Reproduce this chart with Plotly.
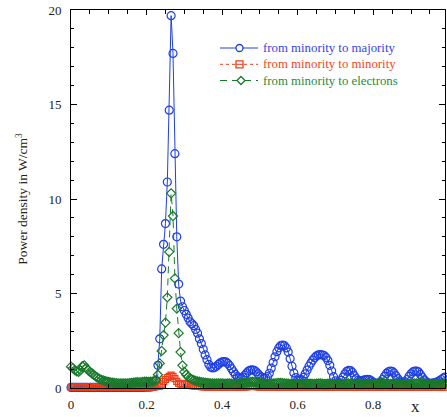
import numpy as np
import plotly.graph_objects as go

# Position along the sample, sampled every 0.005
x = np.round(np.arange(0, 199) * 0.005, 3)

# Power density from minority to majority carriers (W/cm^3)
majority = [
    0.03, 0.03, 0.04, 0.03, 0.03, 0.04, 0.03, 0.03, 0.04, 0.03,
    0.03, 0.03, 0.04, 0.03, 0.03, 0.03, 0.04, 0.03, 0.03, 0.03,
    0.03, 0.04, 0.03, 0.03, 0.03, 0.04, 0.03, 0.03, 0.03, 0.04,
    0.03, 0.03, 0.03, 0.04, 0.03, 0.03, 0.04, 0.03, 0.03, 0.04,
    0.04, 0.05, 0.05, 0.06, 0.08, 0.40, 1.20, 2.60, 6.30, 7.60,
    8.70, 10.9, 14.7, 19.7, 17.7, 12.4, 8.00, 5.50, 4.60, 4.30,
    4.10, 3.90, 3.70, 3.50, 3.40, 3.30, 3.10, 2.90, 2.60, 2.35,
    2.05, 1.75, 1.50, 1.25, 1.10, 1.06, 1.08, 1.15, 1.25, 1.33,
    1.38, 1.40, 1.38, 1.30, 1.18, 1.02, 0.86, 0.72, 0.60, 0.54,
    0.53, 0.58, 0.68, 0.80, 0.90, 0.95, 0.96, 0.94, 0.86, 0.75,
    0.64, 0.56, 0.52, 0.53, 0.60, 0.78, 1.05, 1.35, 1.65, 1.92,
    2.12, 2.24, 2.27, 2.24, 2.12, 1.90, 1.55, 1.15, 0.80, 0.55,
    0.42, 0.40, 0.44, 0.56, 0.75, 0.95, 1.15, 1.32, 1.48, 1.60,
    1.70, 1.75, 1.77, 1.75, 1.72, 1.62, 1.45, 1.20, 0.90, 0.60,
    0.38, 0.27, 0.28, 0.40, 0.58, 0.75, 0.88, 0.93, 0.92, 0.82,
    0.65, 0.50, 0.40, 0.36, 0.38, 0.42, 0.45, 0.46, 0.44, 0.38,
    0.30, 0.25, 0.25, 0.27, 0.32, 0.45, 0.62, 0.77, 0.86, 0.90,
    0.88, 0.80, 0.65, 0.50, 0.38, 0.30, 0.28, 0.33, 0.45, 0.62,
    0.75, 0.85, 0.90, 0.90, 0.85, 0.72, 0.57, 0.43, 0.33, 0.27,
    0.25, 0.25, 0.27, 0.30, 0.33, 0.38, 0.45, 0.52, 0.58,
]

# Power density from minority to minority carriers (W/cm^3)
minority = [
    0.04, 0.05, 0.04, 0.05, 0.05, 0.04, 0.05, 0.04, 0.05, 0.05,
    0.04, 0.05, 0.04, 0.05, 0.04, 0.05, 0.05, 0.04, 0.05, 0.04,
    0.05, 0.04, 0.05, 0.05, 0.04, 0.05, 0.04, 0.05, 0.04, 0.05,
    0.05, 0.04, 0.05, 0.04, 0.05, 0.04, 0.05, 0.05, 0.04, 0.05,
    0.05, 0.05, 0.05, 0.06, 0.06, 0.07, 0.08, 0.10, 0.20, 0.35,
    0.45, 0.55, 0.62, 0.68, 0.62, 0.50, 0.35, 0.25, 0.20, 0.18,
    0.22, 0.25, 0.20, 0.15, 0.12, 0.11, 0.10, 0.09, 0.08, 0.07,
    0.06, 0.06, 0.05, 0.05, 0.05, 0.04, 0.05, 0.04, 0.04, 0.05,
    0.04, 0.04, 0.03, 0.04, 0.04, 0.03, 0.04, 0.04, 0.05, 0.05,
    0.06, 0.05, 0.05, 0.06, 0.07, 0.08, 0.09, 0.08, 0.07, 0.06,
    0.05, 0.05, 0.04, 0.04, 0.03, 0.04, 0.04, 0.05, 0.05, 0.04,
    0.04, 0.03, 0.03, 0.04, 0.04, 0.05, 0.06, 0.05, 0.04, 0.03,
    0.03, 0.03, 0.04, 0.04, 0.03, 0.03, 0.04, 0.05, 0.05, 0.04,
    0.03, 0.03, 0.03, 0.04, 0.05, 0.05, 0.04, 0.03, 0.03, 0.03,
    0.03, 0.04, 0.04, 0.03, 0.03, 0.03, 0.04, 0.04, 0.03, 0.03,
    0.03, 0.04, 0.04, 0.03, 0.03, 0.03, 0.04, 0.04, 0.03, 0.03,
    0.03, 0.03, 0.04, 0.04, 0.03, 0.03, 0.03, 0.04, 0.04, 0.03,
    0.03, 0.03, 0.04, 0.04, 0.03, 0.03, 0.03, 0.04, 0.04, 0.03,
    0.03, 0.03, 0.04, 0.04, 0.03, 0.03, 0.03, 0.04, 0.04, 0.03,
    0.03, 0.03, 0.04, 0.04, 0.03, 0.03, 0.03, 0.04, 0.04,
]

# Power density from minority carriers to electrons (W/cm^3)
electrons = [
    1.13, 1.05, 0.95, 0.88, 0.86, 0.95, 1.15, 1.20, 1.05, 0.95,
    0.86, 0.78, 0.70, 0.62, 0.55, 0.48, 0.44, 0.40, 0.37, 0.34,
    0.32, 0.30, 0.28, 0.27, 0.26, 0.25, 0.25, 0.24, 0.24, 0.25,
    0.25, 0.26, 0.27, 0.28, 0.30, 0.31, 0.30, 0.31, 0.32, 0.33,
    0.33, 0.32, 0.33, 0.34, 0.36, 0.42, 0.70, 1.30, 1.96, 2.80,
    3.46, 4.80, 7.20, 10.3, 9.10, 5.80, 4.20, 2.90, 1.90, 1.20,
    0.85, 0.70, 0.60, 0.52, 0.46, 0.42, 0.38, 0.35, 0.33, 0.31,
    0.30, 0.28, 0.27, 0.26, 0.25, 0.25, 0.24, 0.24, 0.25, 0.25,
    0.24, 0.23, 0.23, 0.24, 0.24, 0.23, 0.22, 0.22, 0.23, 0.24,
    0.25, 0.26, 0.27, 0.28, 0.30, 0.32, 0.33, 0.32, 0.30, 0.28,
    0.27, 0.26, 0.25, 0.24, 0.24, 0.23, 0.23, 0.24, 0.25, 0.26,
    0.27, 0.27, 0.26, 0.25, 0.24, 0.23, 0.22, 0.22, 0.23, 0.23,
    0.22, 0.22, 0.23, 0.23, 0.24, 0.24, 0.23, 0.23, 0.22, 0.22,
    0.23, 0.24, 0.24, 0.23, 0.22, 0.22, 0.23, 0.23, 0.22, 0.22,
    0.22, 0.23, 0.23, 0.22, 0.22, 0.23, 0.24, 0.24, 0.23, 0.22,
    0.22, 0.22, 0.23, 0.23, 0.22, 0.22, 0.23, 0.23, 0.22, 0.22,
    0.22, 0.23, 0.23, 0.24, 0.25, 0.25, 0.24, 0.23, 0.22, 0.22,
    0.22, 0.23, 0.24, 0.24, 0.23, 0.22, 0.22, 0.23, 0.23, 0.22,
    0.22, 0.23, 0.24, 0.25, 0.25, 0.24, 0.23, 0.22, 0.22, 0.22,
    0.22, 0.22, 0.23, 0.23, 0.22, 0.22, 0.22, 0.23, 0.23,
]

series_names = [
    "from minority to majority",
    "from minority to minority",
    "from minority to electrons",
]

BLUE = "#1e3fe3"
RED = "#ec3f1c"
GREEN = "#18792a"
TEXT_COLORS = ["#3346e6", "#ec4a2a", "#2c8a3c"]
FONT = "Liberation Serif, Times New Roman, serif"

W, H = 447, 417
ML, MR, MT, MB = 71, 2, 10, 29
PW, PH = W - ML - MR, H - MT - MB


def px(xp):
    """Horizontal pixel -> paper fraction."""
    return (xp - ML) / PW


def py(yp):
    """Vertical pixel (from top) -> paper fraction."""
    return (H - MB - yp) / PH


styles = [
    dict(line=dict(color=BLUE, width=1),
         marker=dict(symbol="circle-open", size=8, color=BLUE, line=dict(width=1.2))),
    dict(line=dict(color=RED, width=1, dash="3px,3px"),
         marker=dict(symbol="square-open", size=6, color=RED, line=dict(width=1.2))),
    dict(line=dict(color=GREEN, width=1, dash="7px,5px"),
         marker=dict(symbol="diamond-open", size=7, color=GREEN, line=dict(width=1.2))),
]

fig = go.Figure()
for name, ys, st in zip(series_names, [majority, minority, electrons], styles):
    fig.add_trace(go.Scatter(
        x=x, y=ys, mode="lines+markers", cliponaxis=False, name=name,
        showlegend=False, **st,
    ))

axis_common = dict(
    showline=True, linecolor="black", linewidth=1, mirror="allticks",
    ticks="inside", tickcolor="black", showgrid=False, zeroline=False,
    tickfont=dict(family=FONT, size=13, color="#222"),
)

fig.update_xaxes(
    range=[0, 0.99], tick0=0, dtick=0.2, ticklen=5,
    minor=dict(dtick=0.05, ticklen=4, ticks="inside", tickcolor="black"),
    ticklabelstandoff=4,
    **axis_common,
)
fig.update_yaxes(
    range=[0, 20], tick0=0, dtick=5, ticklen=6,
    minor=dict(dtick=1, ticklen=3, ticks="inside", tickcolor="black"),
    ticklabelstandoff=6,
    title=dict(text="Power density in W/cm<sup>3</sup>",
               font=dict(family=FONT, size=13.5, color="#222"), standoff=17),
    **axis_common,
)

# Legend block drawn in the upper right of the plot area
rows_y = [48, 64.3, 80.5]
line_x0, line_x1, mark_x, text_x = 220, 258, 239.5, 260.5
shapes = []
annotations = []
for i, (name, st, ry) in enumerate(zip(series_names, styles, rows_y)):
    ln = st["line"]
    shapes.append(dict(
        type="line", xref="paper", yref="paper",
        x0=px(line_x0), x1=px(line_x1), y0=py(ry), y1=py(ry),
        line=dict(color=ln["color"], width=1, dash=ln.get("dash", "solid")),
    ))
    c = ln["color"]
    if i == 0:
        r = 3.5
        shapes.append(dict(
            type="circle", xref="paper", yref="paper",
            x0=px(mark_x - r), x1=px(mark_x + r), y0=py(ry + r), y1=py(ry - r),
            line=dict(color=c, width=1.3), fillcolor="white",
        ))
    elif i == 1:
        r = 3.5
        shapes.append(dict(
            type="rect", xref="paper", yref="paper",
            x0=px(mark_x - r), x1=px(mark_x + r), y0=py(ry + r), y1=py(ry - r),
            line=dict(color=c, width=1.3), fillcolor="white",
        ))
        shapes.append(dict(
            type="line", xref="paper", yref="paper",
            x0=px(mark_x - r), x1=px(mark_x + r), y0=py(ry), y1=py(ry),
            line=dict(color=c, width=1),
        ))
    else:
        r = 4
        mx = mark_x + 1.5
        path = (f"M {px(mx - r)},{py(ry)} L {px(mx)},{py(ry - r)} "
                f"L {px(mx + r)},{py(ry)} L {px(mx)},{py(ry + r)} Z")
        shapes.append(dict(
            type="path", xref="paper", yref="paper", path=path,
            line=dict(color=c, width=1.3), fillcolor="white",
        ))
    annotations.append(dict(
        xref="paper", yref="paper", x=px(text_x), y=py(ry),
        xanchor="left", yanchor="middle", showarrow=False, text=name,
        font=dict(family=FONT, size=12.8, color=TEXT_COLORS[i]),
    ))

# Axis label for the horizontal coordinate
annotations.append(dict(
    xref="paper", yref="paper", x=px(415), y=py(406),
    xanchor="center", yanchor="middle", showarrow=False, text="x",
    font=dict(family=FONT, size=17, color="#222"),
))

fig.update_layout(
    width=W, height=H,
    margin=dict(l=ML, r=MR, t=MT, b=MB),
    paper_bgcolor="white", plot_bgcolor="white",
    font=dict(family=FONT, size=12, color="#222"),
    shapes=shapes, annotations=annotations,
)

fig.write_html("out.html")
